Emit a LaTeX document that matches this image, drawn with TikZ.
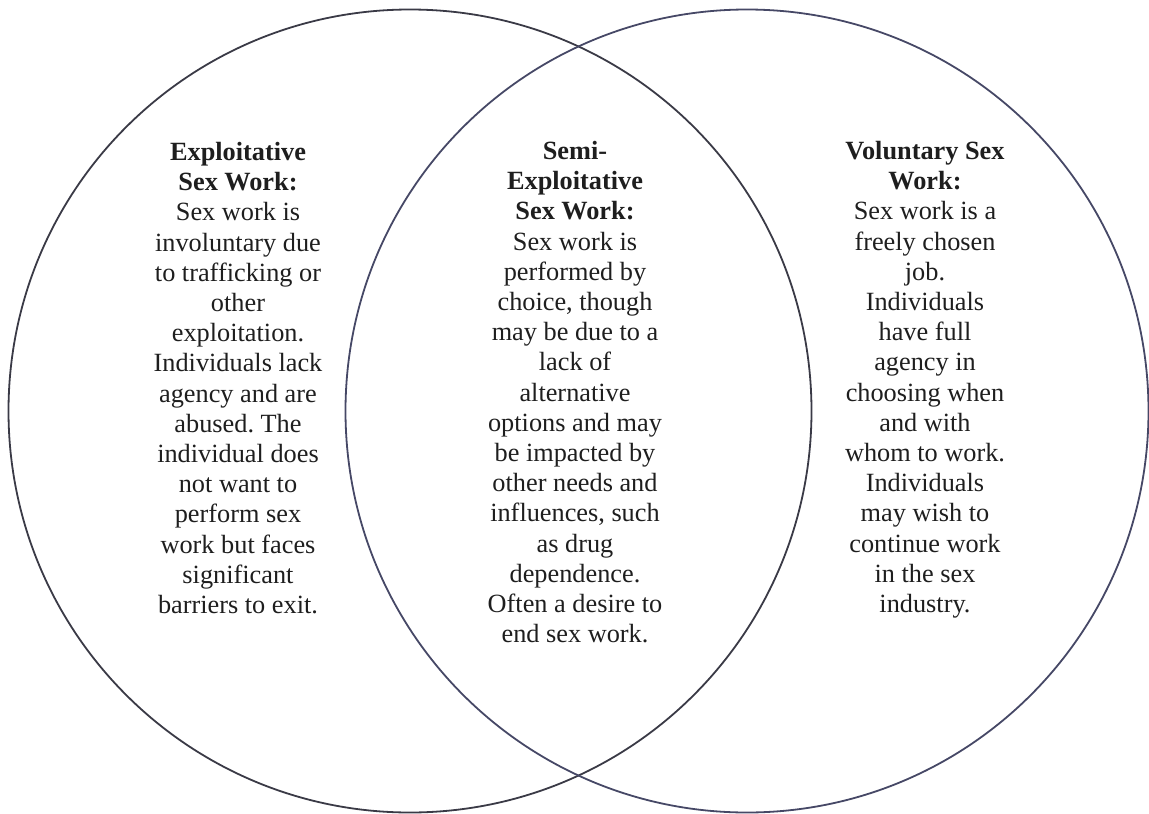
\documentclass[tikz,border=0pt]{standalone}
\usepackage{fontspec}
\setmainfont{Liberation Serif}
\frenchspacing
\definecolor{ringleft}{HTML}{3A3A46}
\definecolor{ringright}{HTML}{464866}
\definecolor{inktext}{HTML}{1E1E1E}
\begin{document}
\begin{tikzpicture}[x=1pt,y=-1pt]
\tikzset{
  ring/.style={circle, draw, line width=1.8pt, inner sep=0pt, minimum size=803pt},
  body/.style={align=center, inner sep=0pt, anchor=north, text=inktext,
    font=\fontsize{26.3}{30.2}\selectfont}
}
\useasboundingbox (0,0) rectangle (1149,814);

% the two overlapping sets
\node[ring, draw=ringleft]  (leftset)  at (410,411) {};
\node[ring, draw=ringright] (rightset) at (747,411) {};

% left set only
\node[body] (exploit) at (238,142) {%
\textbf{Exploitative}\\\textbf{Sex Work:}\\Sex work is\\involuntary due\\to trafficking or\\other\\exploitation.\\Individuals lack\\agency and are\\abused. The\\individual does\\not want to\\perform sex\\work but faces\\significant\\barriers to exit.};

% overlap of both sets
\node[body] (semi) at (575,141) {%
\textbf{Semi-}\\\textbf{Exploitative}\\\textbf{Sex Work:}\\Sex work is\\performed by\\choice, though\\may be due to a\\lack of\\alternative\\options and may\\be impacted by\\other needs and\\influences, such\\as drug\\dependence.\\Often a desire to\\end sex work.};

% right set only
\node[body] (volunt) at (925,141) {%
\textbf{Voluntary Sex}\\\textbf{Work:}\\Sex work is a\\freely chosen\\job.\\Individuals\\have full\\agency in\\choosing when\\and with\\whom to work.\\Individuals\\may wish to\\continue work\\in the sex\\industry.};
\end{tikzpicture}
\end{document}
